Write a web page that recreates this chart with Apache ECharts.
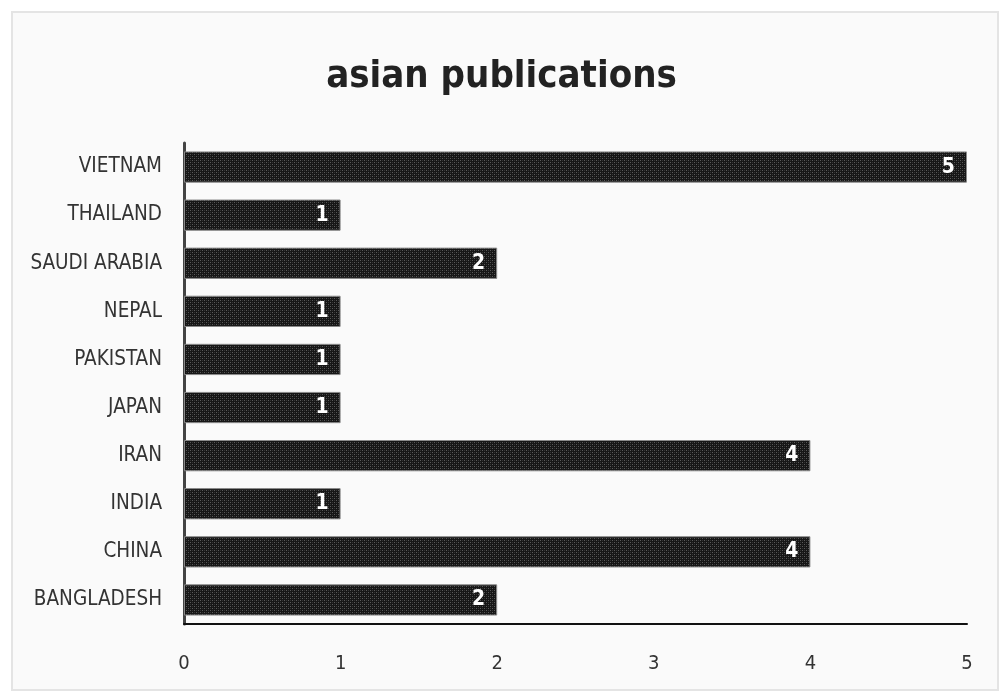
<!DOCTYPE html>
<html><head><meta charset="utf-8">
<script src="https://cdn.jsdelivr.net/npm/echarts@6/dist/echarts.min.js"></script>
<style>
html,body{margin:0;padding:0;background:#fff;}
#frame{position:absolute;left:11px;top:11px;width:988px;height:680px;background:#fafafa;border:2px solid #e4e4e4;box-sizing:border-box;}
#c{position:absolute;left:0;top:0;width:1003px;height:691px;}
</style></head>
<body>
<div id="frame"></div>
<div id="c"></div>
<script>
const categories = ['BANGLADESH','CHINA','INDIA','IRAN','JAPAN','PAKISTAN','NEPAL','SAUDI ARABIA','THAILAND','VIETNAM'];
const values = [2,4,1,4,1,1,1,2,1,5];
const xTicks = [0,1,2,3,4,5];

const FONT = '"DejaVu Sans Condensed","Liberation Sans Narrow","Open Sans",sans-serif';

function makePattern(){
  const cv = document.createElement('canvas');
  cv.width = 4; cv.height = 4;
  const g = cv.getContext('2d');
  g.fillStyle = '#161616'; g.fillRect(0,0,4,4);
  g.fillStyle = '#5a5a5a';
  g.fillRect(0,0,1,1); g.fillRect(2,2,1,1);
  g.fillStyle = '#333';
  g.fillRect(2,0,1,1); g.fillRect(0,2,1,1);
  return cv;
}

const chart = echarts.init(document.getElementById('c'), null, {renderer:'canvas'});
chart.setOption({
  backgroundColor: 'transparent',
  animation: false,
  title: {
    text: 'asian publications',
    left: 'center', top: 53,
    textStyle: {fontFamily: FONT, fontSize: 38, fontWeight: 'bold', color: '#222'}
  },
  grid: {left: 184, right: 36, top: 143, bottom: 67, containLabel: false},
  xAxis: {
    type: 'value', min: 0, max: 5, interval: 1,
    axisLine: {show: true, lineStyle: {color: '#111', width: 2}},
    axisTick: {show: false},
    splitLine: {show: false},
    axisLabel: {
      margin: 30, color: '#333', fontFamily: FONT, fontSize: 20,
      formatter: v => xTicks.includes(v) ? String(v) : ''
    }
  },
  yAxis: {
    type: 'category', data: categories,
    axisLine: {show: true, lineStyle: {color: '#444', width: 3}},
    axisTick: {show: false},
    axisLabel: {margin: 22, color: '#333', fontFamily: FONT, fontSize: 20.5}
  },
  series: [{
    type: 'bar',
    data: values,
    barWidth: '65%',
    itemStyle: {
      color: {image: makePattern(), repeat: 'repeat'},
      borderColor: '#8a8a8a', borderWidth: 1
    },
    label: {
      show: true, position: 'insideRight', distance: 12,
      color: '#fff', fontFamily: FONT, fontSize: 21, fontWeight: 'bold'
    }
  }]
});
</script>
</body></html>
